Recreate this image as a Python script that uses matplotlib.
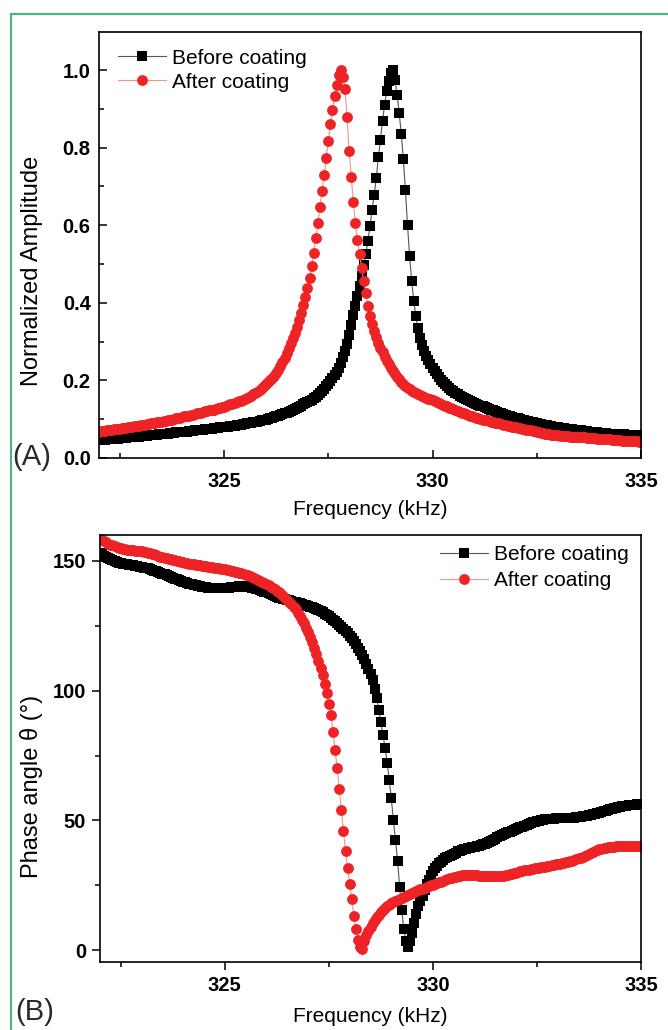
import numpy as np
import matplotlib
matplotlib.use("Agg")  # без дисплея
import matplotlib.pyplot as plt
from matplotlib.lines import Line2D
from matplotlib.ticker import FixedLocator, FormatStrFormatter

plt.rcParams['font.family'] = ['Liberation Sans', 'DejaVu Sans']  # Arial-подобный шрифт

# Частота развёртки, кГц (шаг 0.05)
freq = np.round(np.arange(322.0, 335.0 + 1e-6, 0.05), 2)

# Нормированная амплитуда до покрытия
amp_before = [
    .046, .046, .047, .047, .048, .048, .049, .049, .050, .050, .051, .051, .052, .052, .053, .053, .054, .054, .055, .055,
    .056, .056, .057, .057, .058, .058, .059, .060, .060, .061, .061, .062, .063, .063, .064, .064, .065, .066, .066, .067,
    .067, .068, .068, .069, .070, .070, .071, .071, .072, .073, .073, .074, .075, .075, .076, .077, .077, .078, .079, .079,
    .080, .081, .081, .082, .083, .083, .084, .085, .086, .087, .088, .089, .090, .091, .092, .093, .094, .095, .097, .098,
    .099, .100, .102, .103, .105, .107, .109, .111, .113, .115, .117, .119, .121, .124, .126, .129, .132, .135, .138, .141,
    .144, .147, .150, .154, .158, .162, .167, .172, .178, .185, .192, .199, .205, .213, .222, .233, .246, .260, .276, .295,
    .318, .343, .368, .393, .418, .443, .470, .497, .527, .560, .598, .640, .678, .722, .775, .820, .868, .910, .945, .972,
    .992, 1.000, .975, .935, .890, .835, .770, .690, .600, .520, .455, .405, .365, .335, .310, .292, .277, .264, .253, .243,
    .233, .224, .216, .209, .202, .196, .190, .185, .180, .176, .172, .168, .164, .161, .158, .155, .152, .149, .146, .144,
    .141, .139, .137, .135, .133, .131, .129, .127, .125, .123, .121, .119, .117, .115, .113, .111, .109, .108, .106, .104,
    .103, .102, .100, .099, .098, .096, .095, .094, .092, .091, .090, .088, .087, .086, .085, .084, .083, .082, .081, .080,
    .079, .078, .077, .077, .076, .075, .074, .074, .073, .072, .071, .071, .070, .069, .069, .068, .067, .067, .066, .066,
    .065, .065, .064, .064, .063, .063, .063, .062, .062, .062, .061, .061, .061, .060, .060, .060, .059, .059, .059, .059,
    .058,
]

# Нормированная амплитуда после покрытия
amp_after = [
    .068, .069, .070, .070, .071, .072, .073, .074, .074, .075, .076, .077, .078, .078, .079, .080, .081, .082, .082, .083,
    .084, .085, .086, .087, .088, .089, .090, .091, .092, .093, .094, .095, .096, .097, .098, .099, .100, .102, .103, .104,
    .105, .107, .108, .109, .111, .112, .113, .115, .116, .117, .119, .120, .121, .123, .124, .125, .127, .128, .129, .131,
    .132, .134, .136, .138, .140, .142, .144, .146, .148, .150, .153, .155, .158, .161, .164, .167, .171, .175, .180, .185,
    .190, .195, .200, .205, .211, .218, .227, .237, .248, .259, .271, .283, .296, .309, .323, .338, .355, .373, .394, .415,
    .437, .463, .494, .528, .566, .605, .646, .688, .730, .774, .818, .860, .898, .932, .962, .987, 1.000, .982, .950, .880,
    .790, .725, .660, .605, .562, .525, .490, .456, .424, .392, .366, .345, .327, .311, .297, .284, .272, .261, .251, .242,
    .233, .225, .217, .210, .203, .197, .191, .186, .181, .177, .173, .170, .167, .164, .162, .159, .157, .155, .153, .151,
    .149, .146, .144, .142, .139, .137, .135, .133, .130, .128, .126, .124, .122, .119, .117, .115, .113, .111, .109, .107,
    .105, .104, .102, .101, .099, .098, .097, .095, .094, .093, .091, .090, .089, .087, .086, .085, .083, .082, .081, .080,
    .079, .078, .077, .075, .074, .073, .072, .071, .070, .069, .068, .066, .065, .064, .063, .062, .061, .060, .059, .058,
    .058, .057, .057, .057, .056, .056, .055, .055, .055, .054, .054, .053, .053, .053, .052, .052, .051, .051, .051, .050,
    .050, .049, .049, .049, .048, .048, .047, .047, .047, .046, .046, .045, .045, .045, .044, .044, .043, .043, .043, .042,
    .042,
]

# Фазовый угол до покрытия, градусы
phase_before = [
    153.0, 152.5, 152.0, 151.5, 151.0, 150.6, 150.2, 149.9, 149.6, 149.3, 149.1, 148.9, 148.8, 148.7, 148.6, 148.5, 148.3, 148.1, 147.9, 147.7,
    147.6, 147.4, 147.3, 147.1, 146.9, 146.6, 146.3, 146.0, 145.7, 145.4, 145.1, 144.8, 144.4, 144.1, 143.8, 143.5, 143.2, 142.9, 142.6, 142.3,
    142.0, 141.7, 141.5, 141.2, 141.0, 140.8, 140.6, 140.4, 140.2, 140.0, 139.9, 139.8, 139.7, 139.6, 139.6, 139.5, 139.5, 139.5, 139.5, 139.5,
    139.6, 139.6, 139.7, 139.8, 139.9, 140.0, 140.1, 140.2, 140.2, 140.2, 140.1, 140.0, 139.9, 139.7, 139.5, 139.3, 139.1, 138.8, 138.5, 138.2,
    137.9, 137.5, 137.1, 136.8, 136.5, 136.2, 135.9, 135.6, 135.4, 135.2, 135.0, 134.8, 134.5, 134.3, 134.1, 133.8, 133.6, 133.4, 133.1, 132.9,
    132.6, 132.4, 132.1, 131.8, 131.5, 131.1, 130.7, 130.2, 129.7, 129.2, 128.6, 128.0, 127.4, 126.7, 126.0, 125.3, 124.6, 123.8, 123.0, 122.1,
    121.2, 120.2, 119.1, 117.9, 116.6, 115.2, 113.7, 112.1, 110.4, 108.5, 106.4, 104.0, 100.8, 97.0, 92.5, 87.8, 83.0, 78.0, 72.3, 65.7,
    58.5, 50.0, 42.5, 34.5, 24.5, 15.5, 8.0, 3.5, 1.0, 3.5, 6.5, 10.5, 13.8, 16.8, 19.0, 21.0, 23.2, 25.3, 27.2, 28.9,
    30.3, 31.5, 32.5, 33.4, 34.1, 34.7, 35.3, 35.8, 36.3, 36.8, 37.2, 37.6, 38.0, 38.3, 38.6, 38.9, 39.1, 39.3, 39.5, 39.7,
    39.9, 40.0, 40.2, 40.4, 40.7, 41.0, 41.4, 41.8, 42.2, 42.6, 43.0, 43.5, 43.9, 44.3, 44.7, 45.0, 45.4, 45.7, 46.0, 46.3,
    46.6, 47.0, 47.3, 47.6, 48.0, 48.3, 48.6, 48.9, 49.2, 49.5, 49.7, 49.9, 50.1, 50.3, 50.4, 50.5, 50.6, 50.7, 50.7, 50.8,
    50.8, 50.8, 50.8, 50.9, 50.9, 50.9, 51.0, 51.0, 51.1, 51.2, 51.3, 51.4, 51.5, 51.6, 51.7, 51.9, 52.1, 52.3, 52.5, 52.7,
    53.0, 53.3, 53.6, 53.8, 54.1, 54.3, 54.5, 54.7, 54.9, 55.1, 55.3, 55.4, 55.6, 55.7, 55.8, 55.9, 56.0, 56.1, 56.2, 56.3,
    56.4,
]

# Фазовый угол после покрытия, градусы
phase_after = [
    158.7, 158.2, 157.7, 157.2, 156.7, 156.3, 156.0, 155.7, 155.4, 155.1, 154.9, 154.7, 154.5, 154.4, 154.3, 154.2, 154.1, 154.0, 153.9, 153.8,
    153.7, 153.6, 153.4, 153.2, 153.0, 152.7, 152.5, 152.2, 152.0, 151.7, 151.5, 151.2, 151.0, 150.8, 150.6, 150.4, 150.2, 150.0, 149.8, 149.6,
    149.4, 149.3, 149.1, 149.0, 148.8, 148.7, 148.5, 148.4, 148.3, 148.1, 148.0, 147.9, 147.7, 147.6, 147.5, 147.4, 147.3, 147.1, 147.0, 146.9,
    146.8, 146.6, 146.5, 146.3, 146.1, 145.9, 145.7, 145.5, 145.3, 145.0, 144.7, 144.4, 144.1, 143.8, 143.5, 143.1, 142.7, 142.3, 141.9, 141.5,
    141.1, 140.6, 140.1, 139.6, 139.1, 138.5, 137.9, 137.3, 136.6, 135.9, 135.1, 134.3, 133.4, 132.4, 131.3, 130.1, 128.8, 127.4, 125.9, 124.3,
    122.6, 120.8, 118.8, 116.6, 114.2, 111.6, 108.8, 106.0, 102.6, 99.0, 95.0, 90.5, 84.0, 77.0, 70.0, 62.0, 54.1, 46.0, 38.0, 31.5,
    25.5, 19.5, 13.0, 8.0, 3.8, 1.0, 0.5, 3.5, 5.8, 7.5, 9.0, 10.4, 11.6, 12.7, 13.7, 14.6, 15.4, 16.1, 16.8, 17.4,
    18.0, 18.5, 19.0, 19.4, 19.8, 20.2, 20.6, 21.0, 21.3, 21.7, 22.0, 22.4, 22.7, 23.0, 23.4, 23.7, 24.0, 24.3, 24.6, 24.9,
    25.2, 25.5, 25.8, 26.1, 26.4, 26.7, 27.0, 27.3, 27.6, 27.9, 28.1, 28.3, 28.5, 28.7, 28.8, 28.9, 29.0, 29.0, 29.0, 28.9,
    28.9, 28.8, 28.7, 28.6, 28.5, 28.5, 28.4, 28.4, 28.4, 28.4, 28.4, 28.4, 28.5, 28.6, 28.7, 28.9, 29.1, 29.3, 29.5, 29.7,
    29.9, 30.1, 30.3, 30.5, 30.7, 30.9, 31.0, 31.2, 31.3, 31.5, 31.6, 31.8, 31.9, 32.1, 32.2, 32.4, 32.5, 32.7, 32.8, 33.0,
    33.1, 33.3, 33.5, 33.6, 33.8, 34.0, 34.2, 34.5, 34.7, 35.0, 35.3, 35.6, 35.9, 36.3, 36.7, 37.1, 37.5, 37.9, 38.3, 38.6,
    38.9, 39.1, 39.3, 39.5, 39.6, 39.7, 39.8, 39.9, 40.0, 40.0, 40.1, 40.1, 40.1, 40.2, 40.2, 40.2, 40.2, 40.2, 40.2, 40.2,
    40.2,
]

series_labels = ["Before coating", "After coating"]
freq_ticks = [325, 330, 335]
freq_minor = [322.5, 327.5, 332.5]
amp_ticks = [0.0, 0.2, 0.4, 0.6, 0.8, 1.0]
amp_minor = [0.1, 0.3, 0.5, 0.7, 0.9]
phase_ticks = [0, 50, 100, 150]
phase_minor = [25, 75, 125]

RED = '#ee2326'
W, H = 668, 1030


def draw_series(ax, y_before, y_after):
    # Чёрные квадраты и красные кружки с тонкой соединительной линией
    ax.plot(freq, y_before, '-', color='#555555', lw=0.8, marker='s', ms=7,
            mfc='black', mec='black', mew=0, label=series_labels[0])
    ax.plot(freq, y_after, '-', color='#f29585', lw=0.8, marker='o', ms=7.8,
            mfc=RED, mec=RED, mew=0, label=series_labels[1])


def style_axes(ax, direction):
    # Рамка, деления и подписи делений
    for side in ax.spines.values():
        side.set_linewidth(1.2)
    ax.tick_params(which='both', direction=direction, top=False, right=False,
                   width=1.1, labelsize=14.5)
    ax.tick_params(which='major', length=6)
    ax.tick_params(which='minor', length=3.5)
    for lab in ax.get_xticklabels() + ax.get_yticklabels():
        lab.set_fontweight('bold')


fig = plt.figure(figsize=(W / 100, H / 100), dpi=100)

# Панель (A): амплитуда
ax1 = fig.add_axes([99 / W, 1 - 458 / H, 542 / W, 426 / H])
draw_series(ax1, amp_before, amp_after)
ax1.set_xlim(322, 335)
ax1.set_ylim(0, 1.098)
ax1.xaxis.set_major_locator(FixedLocator(freq_ticks))
ax1.xaxis.set_minor_locator(FixedLocator(freq_minor))
ax1.yaxis.set_major_locator(FixedLocator(amp_ticks))
ax1.yaxis.set_minor_locator(FixedLocator(amp_minor))
ax1.yaxis.set_major_formatter(FormatStrFormatter('%.1f'))
style_axes(ax1, 'in')
ax1.tick_params(axis='x', pad=10)
ax1.tick_params(axis='y', pad=6)
ax1.set_xlabel("Frequency (kHz)", fontsize=15)
ax1.xaxis.set_label_coords(0.5, -0.098)
ax1.set_ylabel("Normalized Amplitude", fontsize=17)
ax1.yaxis.set_label_coords(-0.103, 0.44)
ax1.legend(loc='upper left', bbox_to_anchor=(0.035, 0.961), frameon=False,
           fontsize=15, handlelength=2.3, handletextpad=0.3, labelspacing=0.24,
           borderpad=0, borderaxespad=0)

# Панель (B): фаза
ax2 = fig.add_axes([100 / W, 1 - 962 / H, 541 / W, 427 / H])
draw_series(ax2, phase_before, phase_after)
ax2.set_xlim(322, 335)
ax2.set_ylim(-4.6, 160)
ax2.xaxis.set_major_locator(FixedLocator(freq_ticks))
ax2.xaxis.set_minor_locator(FixedLocator(freq_minor))
ax2.yaxis.set_major_locator(FixedLocator(phase_ticks))
ax2.yaxis.set_minor_locator(FixedLocator(phase_minor))
style_axes(ax2, 'out')
ax2.tick_params(axis='x', pad=4)
ax2.tick_params(axis='y', pad=4)
ax2.set_xlabel("Frequency (kHz)", fontsize=15)
ax2.xaxis.set_label_coords(0.5, -0.105)
ax2.set_ylabel("Phase angle θ (°)", fontsize=17)
ax2.yaxis.set_label_coords(-0.105, 0.41)
ax2.legend(loc='upper right', bbox_to_anchor=(0.978, 0.976), frameon=False,
           fontsize=15, handlelength=2.3, handletextpad=0.3, labelspacing=0.34,
           borderpad=0, borderaxespad=0)

# Метки панелей
fig.text(12 / W, 1 - 457 / H, "(A)", fontsize=21, color='#2a2a2a', va='center', ha='left')
fig.text(15 / W, 1 - 1012 / H, "(B)", fontsize=21, color='#2a2a2a', va='center', ha='left')

# Зелёная рамка слева и сверху
green = '#45b97c'
fig.add_artist(Line2D([11 / W, 11 / W], [0, 1 - 14 / H], color=green, lw=1.5))
fig.add_artist(Line2D([11 / W, 1], [1 - 14 / H, 1 - 14 / H], color=green, lw=1.5))

fig.savefig("out.png", dpi=100)
